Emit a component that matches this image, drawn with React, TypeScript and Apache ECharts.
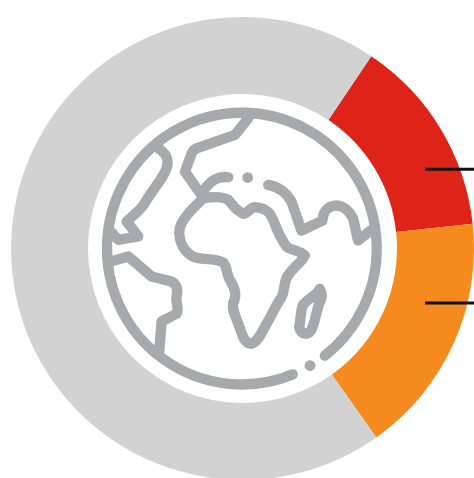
import React, { useEffect, useRef } from "react";
import * as echarts from "echarts";

const segmentNames = ["Red share", "Orange share", "Remainder"];
const segmentValues = [13.9, 16.9, 69.2];
const segmentColors = ["#DE2418", "#F58A1E", "#D2D2D2"];

const globeD = [
  "M 705 798 A 405 408 0 1 0 609 854",
  "M 475 85 L 435 135 L 320 175 C 308 180 305 190 300 205 L 285 245 L 332 312",
  "M 415 262 C 385 258 360 270 335 312",
  "M 535 285 C 565 290 590 310 605 335 L 635 422 L 698 392 C 700 365 710 352 735 347 C 760 345 780 365 790 385 L 805 452 L 845 420",
  "M 340 325 C 370 320 400 320 415 330 C 425 340 430 350 440 358 L 460 372 C 475 370 480 352 495 352 C 520 355 535 360 545 380 C 560 410 565 435 590 470 C 600 482 630 480 645 497 C 635 520 605 535 590 565 C 580 590 585 605 575 622 C 555 650 545 680 530 702 C 515 730 505 755 485 762 C 465 760 460 745 450 715 C 440 685 425 660 430 640 C 445 610 430 590 420 570 C 410 555 412 530 400 518 C 380 505 350 510 325 505 C 295 500 270 470 268 430 C 268 400 285 385 300 365 L 340 325",
  "M 690 597 C 698 610 698 625 688 642 C 680 665 676 695 667 715 C 658 738 635 738 628 712 C 634 690 630 670 640 645 C 655 625 680 620 690 597 Z",
  "M 195 168 C 225 185 240 205 230 235 C 220 265 195 290 170 330 C 160 350 150 360 110 395 L 145 440 L 85 450 L 62 425",
  "M 62 515 L 115 500 L 185 560 L 245 575 C 262 585 265 600 260 620 C 255 640 270 655 260 672 L 215 695 L 208 785",
].join(" ");
const globeDots = [
  [473, 263],
  [660, 827],
];

const ZOOM = 1 / 3;
const ORIGIN = 90;

export default function App() {
  const ref = useRef<HTMLDivElement>(null);

  useEffect(() => {
    if (!ref.current) return;
    echarts.graphic.registerShape("globeIcon", echarts.graphic.extendPath(globeD, {}) as any);
    const chart = echarts.init(ref.current, null, { renderer: "svg" });
    chart.setOption({
      animation: false,
      backgroundColor: "#FFFFFF",
      series: [
        {
          type: "pie",
          center: [242.5, 248.5],
          radius: [154.5, 231.5],
          startAngle: 56.2,
          silent: true,
          label: { show: false },
          labelLine: { show: false },
          itemStyle: { borderWidth: 0 },
          data: segmentValues.map((value, i) => ({
            name: segmentNames[i],
            value,
            itemStyle: { color: segmentColors[i] },
          })),
        },
      ],
      graphic: [
        {
          type: "globeIcon",
          x: ORIGIN,
          y: ORIGIN,
          scaleX: ZOOM,
          scaleY: ZOOM,
          z: 10,
          silent: true,
          style: {
            fill: "none",
            stroke: "#A7A9AC",
            lineWidth: 31,
            lineCap: "round",
            lineJoin: "round",
          },
        },
        ...globeDots.map(([x, y]) => ({
          type: "circle",
          z: 10,
          silent: true,
          shape: { cx: ORIGIN + x * ZOOM, cy: ORIGIN + y * ZOOM, r: 5.4 },
          style: { fill: "#A7A9AC" },
        })),
        {
          type: "line",
          z: 11,
          silent: true,
          shape: { x1: 425, y1: 169.3, x2: 474, y2: 169.3 },
          style: { stroke: "#111111", lineWidth: 3 },
        },
        {
          type: "line",
          z: 11,
          silent: true,
          shape: { x1: 425, y1: 303, x2: 474, y2: 303 },
          style: { stroke: "#111111", lineWidth: 3 },
        },
      ],
    });
    return () => chart.dispose();
  }, []);

  return <div ref={ref} style={{ position: "absolute", left: 0, top: 0, width: 474, height: 478 }} />;
}
